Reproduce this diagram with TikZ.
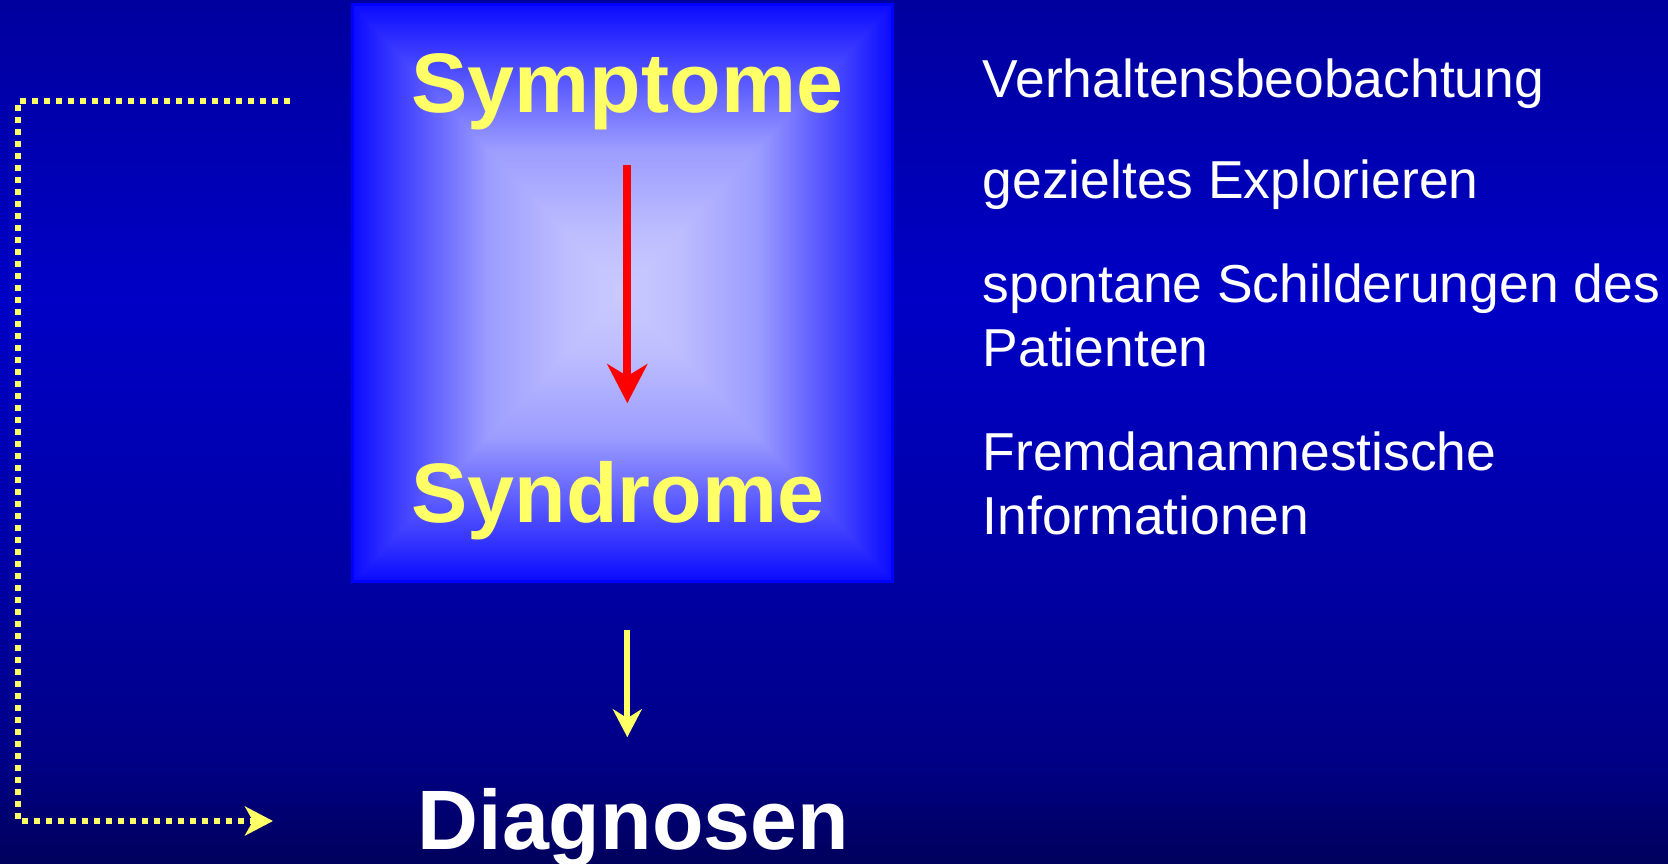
\documentclass[tikz,border=0pt]{standalone}
\usepackage{fontspec}
\setmainfont{Liberation Sans}
\usetikzlibrary{arrows.meta, positioning, calc}
\definecolor{slidetop}{HTML}{00009E}
\definecolor{slidehigh}{HTML}{0000C6}
\definecolor{slidemid}{HTML}{0000A8}
\definecolor{slidelow}{HTML}{000086}
\definecolor{slidebot}{HTML}{00005C}
\definecolor{titleyellow}{HTML}{FFFF66}
\definecolor{arrowred}{HTML}{FF0000}
\definecolor{boxedge}{HTML}{0A0AFF}
\definecolor{boxnear}{HTML}{3434FF}
\definecolor{boxhalf}{HTML}{9C9CFF}
\definecolor{boxlight}{HTML}{BEBEFF}
\definecolor{boxmid}{HTML}{CACAFF}
\definecolor{boxline}{HTML}{0000FF}
% tikz stretches the 25bp--75bp part of a shading over the path
\pgfdeclareverticalshading{slidebg}{100bp}{color(0bp)=(slidebot); color(25bp)=(slidebot); color(31bp)=(slidelow); color(43.2bp)=(slidemid); color(57.6bp)=(slidehigh); color(75bp)=(slidetop); color(100bp)=(slidetop)}
\pgfdeclarehorizontalshading{boxsides}{100bp}{color(0bp)=(boxedge); color(25bp)=(boxedge); color(28.5bp)=(boxnear); color(37.5bp)=(boxhalf); color(45bp)=(boxlight); color(50bp)=(boxmid); color(55bp)=(boxlight); color(62.5bp)=(boxhalf); color(71.5bp)=(boxnear); color(75bp)=(boxedge); color(100bp)=(boxedge)}
\pgfdeclareverticalshading{boxends}{100bp}{color(0bp)=(boxedge); color(25bp)=(boxedge); color(28.5bp)=(boxnear); color(37.5bp)=(boxhalf); color(45bp)=(boxlight); color(50bp)=(boxmid); color(55bp)=(boxlight); color(62.5bp)=(boxhalf); color(71.5bp)=(boxnear); color(75bp)=(boxedge); color(100bp)=(boxedge)}

\begin{document}
\begin{tikzpicture}[
    title/.style={font=\fontsize{24}{28}\selectfont\bfseries, inner sep=0pt, anchor=base west},
    item/.style={font=\fontsize{15.2}{18.35}\selectfont, text=white, inner sep=0pt, anchor=base west, align=left},
    redarrow/.style={draw=arrowred, line width=0.08cm, -{Stealth[length=0.39cm, width=0.40cm, inset=0.12cm]}},
    yelarrow/.style={draw=titleyellow, line width=0.06cm, -{Stealth[length=0.28cm, width=0.29cm, inset=0.09cm]}},
    loopline/.style={draw=titleyellow, line width=0.06cm, dash pattern=on 0.06cm off 0.06cm,
                     -{Stealth[length=0.28cm, width=0.29cm, inset=0.08cm]}},
]
    % background
    \shade[shading=slidebg] (0,0) rectangle (16.68,-8.64);
    \useasboundingbox (0,0) rectangle (16.68,-8.64);

    % framed box with the light centre
    \node[minimum width=5.39cm, minimum height=5.76cm, inner sep=0pt] (box) at (6.225,-2.93) {};
    \shade[shading=boxsides] (box.north west) rectangle (box.south east);
    \begin{scope}
        \clip (box.north west) -- (box.north east) -- (box.south west) -- (box.south east) -- cycle;
        \shade[shading=boxends] (box.north west) rectangle (box.south east);
    \end{scope}
    \draw[boxline, line width=0.03cm] (box.north west) rectangle (box.south east);

    \node[title, text=titleyellow] (sym) at (4.11,-1.13) {Symptome};
    \node[title, text=titleyellow] (syn) at (4.11,-5.23) {Syndrome};
    \node[title, text=white] (diag) at (4.17,-8.50) {Diagnosen};

    \draw[redarrow, shorten <=0.34cm, shorten >=0.58cm] (sym.south) -- (sym.south |- syn.north);
    \draw[yelarrow, shorten <=0.48cm, shorten >=0.51cm] (sym.south |- box.south) -- (sym.south |- diag.north);

    % feedback loop on the left
    \coordinate (loopin) at (2.90,-1.01);
    \coordinate (loopleft) at (0.18,-1.01);
    \coordinate (loopout) at (2.73,-8.21);
    \draw[loopline] (loopin) -- (loopleft) |- (loopout);

    % sources of information
    \node[item] (obs) at (9.82,-0.98) {Verhaltensbeobachtung};
    \node[item] (expl) at (9.82,-1.99) {gezieltes Explorieren};
    \node[item] (spont) at (9.82,-3.67) {spontane Schilderungen des\\Patienten};
    \node[item] (fremd) at (9.82,-5.35) {Fremdanamnestische\\Informationen};
\end{tikzpicture}
\end{document}
